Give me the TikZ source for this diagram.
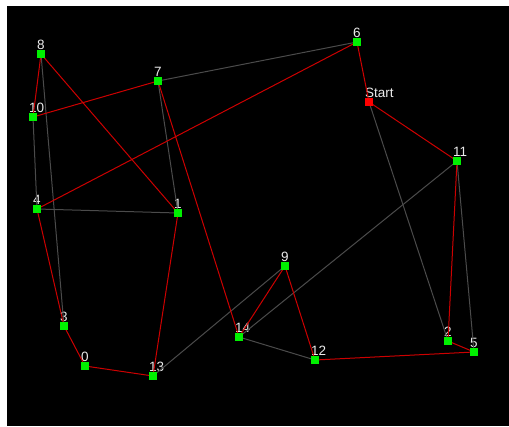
\documentclass[tikz,border=0pt]{standalone}
\usepackage{fontspec}
\setmainfont{Liberation Sans}

\definecolor{tourred}{RGB}{205,0,0}
\definecolor{edgegray}{RGB}{75,75,75}
\definecolor{citygreen}{RGB}{0,240,0}

\tikzset{
  city/.style={rectangle, fill=citygreen, minimum size=7pt, inner sep=0pt},
  startcity/.style={city, fill=red},
  lbl/.style={anchor=base west, inner sep=0pt, xshift=-0.5pt, yshift=0.5pt,
    text=white!92!black, font=\fontsize{13.5}{13.5}\selectfont},
  tour/.style={draw=tourred, line width=1pt},
  other/.style={draw=edgegray, line width=1pt}
}

\begin{document}
\begin{tikzpicture}[x=1pt, y=-1pt]
  \useasboundingbox (0,0) rectangle (509,426);
  \fill[white] (0,0) rectangle (509,426);
  \fill[black] (7,6) rectangle (509,426);

  % cities (pixel positions, y down)
  \node[city, label={[lbl]north west:0}]  (n0)  at (85,366) {};
  \node[city, label={[lbl]north west:1}]  (n1)  at (178,213) {};
  \node[city, label={[lbl]north west:2}]  (n2)  at (448,341) {};
  \node[city, label={[lbl]north west:3}]  (n3)  at (64,326) {};
  \node[city, label={[lbl]north west:4}]  (n4)  at (37,209) {};
  \node[city, label={[lbl]north west:5}]  (n5)  at (474,352) {};
  \node[city, label={[lbl]north west:6}]  (n6)  at (357,42) {};
  \node[city, label={[lbl]north west:7}]  (n7)  at (158,81) {};
  \node[city, label={[lbl]north west:8}]  (n8)  at (41,54) {};
  \node[city, label={[lbl]north west:9}]  (n9)  at (285,266) {};
  \node[city, label={[lbl]north west:10}] (n10) at (33,117) {};
  \node[city, label={[lbl]north west:11}] (n11) at (457,161) {};
  \node[city, label={[lbl]north west:12}] (n12) at (315,360) {};
  \node[city, label={[lbl]north west:13}] (n13) at (153,376) {};
  \node[city, label={[lbl]north west:14}] (n14) at (239,337) {};
  \node[startcity, label={[lbl]north west:Start}] (start) at (369,102) {};

  % unused edges
  \draw[other] (n6.center) -- (n7.center);
  \draw[other] (n7.center) -- (n1.center);
  \draw[other] (n4.center) -- (n1.center);
  \draw[other] (n8.center) -- (n3.center);
  \draw[other] (n10.center) -- (n4.center);
  \draw[other] (start.center) -- (n2.center);
  \draw[other] (n11.center) -- (n5.center);
  \draw[other] (n11.center) -- (n14.center);
  \draw[other] (n9.center) -- (n13.center);
  \draw[other] (n14.center) -- (n12.center);

  % tour
  \draw[tour] (start.center) -- (n6.center) -- (n4.center) -- (n3.center)
    -- (n0.center) -- (n13.center) -- (n1.center) -- (n8.center)
    -- (n10.center) -- (n7.center) -- (n14.center) -- (n9.center)
    -- (n12.center) -- (n5.center) -- (n2.center) -- (n11.center)
    -- (start.center);

  % redraw cities on top
  \foreach \c in {n0,n1,n2,n3,n4,n5,n6,n7,n8,n9,n10,n11,n12,n13,n14}
    \fill[citygreen] (\c.south west) rectangle (\c.north east);
  \fill[red] (start.south west) rectangle (start.north east);
\end{tikzpicture}
\end{document}
